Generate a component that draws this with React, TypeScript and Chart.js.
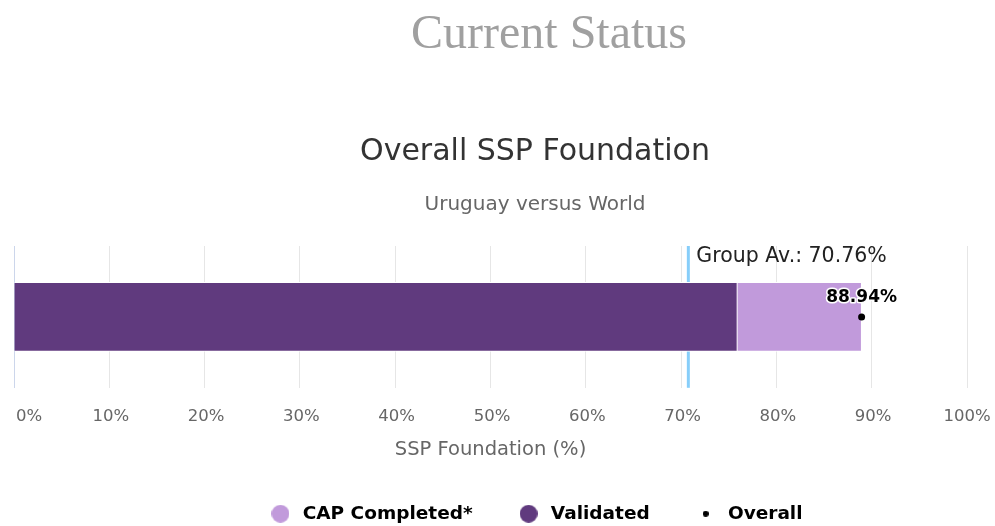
import React, { useEffect, useRef } from 'react';
import { Chart, registerables } from 'chart.js';

Chart.register(...registerables);

// ---- data ----
const categories = ['Uruguay'];
const validatedValues = [75.9];
const capCompletedValues = [13.04];
const overallValues = [88.94];
const groupAverage = 70.76;
const xMin = 0;
const xMax = 100;
const xStep = 10;

const pageTitle = 'Current Status';
const chartTitle = 'Overall SSP Foundation';
const chartSubtitle = 'Uruguay versus World';
const xAxisTitle = 'SSP Foundation (%)';
const groupLabelPrefix = 'Group Av.: ';

const COLOR_VALIDATED = '#603A7E';
const COLOR_CAP = '#C19ADB';
const COLOR_OVERALL = '#000000';
const COLOR_GROUP = '#87CEFA';
const FONT = "'DejaVu Sans', sans-serif";

function dotImage(color: string, size: number): HTMLCanvasElement {
  const c = document.createElement('canvas');
  c.width = size;
  c.height = size;
  const g = c.getContext('2d')!;
  g.fillStyle = color;
  g.beginPath();
  g.arc(size / 2, size / 2, size / 2, 0, Math.PI * 2);
  g.fill();
  return c;
}

// keep the first x tick label inside the chart, as the original does
const firstLabelPlugin = {
  id: 'firstLabel',
  beforeDraw(chart: any) {
    const sx = chart.scales.x;
    const items = sx.getLabelItems();
    if (items && items[0]) {
      items[0].options.textAlign = 'left';
      items[0].options.translation = [chart.chartArea.left + 2, items[0].options.translation[1]];
    }
    for (let i = 1; i < items.length - 1; i++) {
      items[i].options.translation = [items[i].options.translation[0] + 1.5, items[i].options.translation[1]];
    }
  },
};

const groupAvgPlugin = {
  id: 'groupAvg',
  beforeDatasetsDraw(chart: any) {
    const { ctx, chartArea, scales } = chart;
    const x = scales.x.getPixelForValue(groupAverage);
    ctx.save();
    ctx.strokeStyle = COLOR_GROUP;
    ctx.lineWidth = 3;
    ctx.beginPath();
    ctx.moveTo(x, chartArea.top);
    ctx.lineTo(x, chartArea.bottom);
    ctx.stroke();
    ctx.restore();
  },
  afterDatasetsDraw(chart: any) {
    const { ctx, chartArea, scales } = chart;
    const x = scales.x.getPixelForValue(groupAverage);
    ctx.save();
    ctx.font = `20.5px ${FONT}`;
    ctx.fillStyle = '#222';
    ctx.textAlign = 'left';
    ctx.textBaseline = 'middle';
    ctx.fillText(groupLabelPrefix + groupAverage.toFixed(2) + '%', x + 8, chartArea.top + 11);

    const meta = chart.getDatasetMeta(2);
    const pt = meta.data[0];
    if (pt) {
      const txt = overallValues[0].toFixed(2) + '%';
      ctx.font = `bold 17px ${FONT}`;
      ctx.textAlign = 'center';
      ctx.textBaseline = 'middle';
      ctx.lineJoin = 'round';
      ctx.strokeStyle = '#ffffff';
      ctx.lineWidth = 3;
      ctx.strokeText(txt, pt.x, pt.y - 19);
      ctx.fillStyle = '#000';
      ctx.fillText(txt, pt.x, pt.y - 19);
    }
    ctx.restore();
  },
};

export default function App() {
  const ref = useRef<HTMLCanvasElement | null>(null);

  useEffect(() => {
    if (!ref.current) return;
    const legendImgs = [dotImage(COLOR_CAP, 18), dotImage(COLOR_VALIDATED, 18), dotImage(COLOR_OVERALL, 6)];
    const chart = new Chart(ref.current, {
      type: 'bar',
      data: {
        labels: categories,
        datasets: [
          {
            type: 'bar',
            label: 'Validated',
            data: validatedValues,
            backgroundColor: COLOR_VALIDATED,
            borderColor: '#ffffff',
            borderWidth: 1,
            barThickness: 69,
            order: 2,
          },
          {
            type: 'bar',
            label: 'CAP Completed*',
            data: capCompletedValues,
            backgroundColor: COLOR_CAP,
            borderColor: '#ffffff',
            borderWidth: 1,
            barThickness: 69,
            order: 2,
          },
          {
            type: 'line',
            label: 'Overall',
            data: overallValues,
            stack: 'overall',
            showLine: false,
            pointRadius: 3.5,
            pointBackgroundColor: COLOR_OVERALL,
            pointBorderWidth: 0,
            order: 1,
          } as any,
        ],
      },
      options: {
        indexAxis: 'y',
        responsive: false,
        animation: false,
        devicePixelRatio: 1,
        layout: { padding: { left: 0, right: 0, top: 0, bottom: 0 } },
        scales: {
          x: {
            type: 'linear',
            stacked: true,
            min: xMin,
            max: xMax,
            ticks: {
              stepSize: xStep,
              padding: 0,
              color: '#666',
              font: { family: FONT, size: 16.5 },
              callback: (v: any) => v + '%',
            },
            grid: {
              drawTicks: true,
              tickLength: 19,
              tickColor: 'transparent',
              color: (c: any) => (c.tick && c.tick.value === 0 ? '#ccd6eb' : '#e6e6e6'),
              lineWidth: 1,
            },
            border: { display: false },
            title: {
              display: true,
              text: xAxisTitle,
              color: '#666',
              font: { family: FONT, size: 19.5 },
              padding: { top: 11.5, bottom: 0 },
            },
          },
          y: {
            type: 'category',
            stacked: true,
            position: 'left',
            ticks: { display: false },
            grid: { display: false, drawTicks: false },
            border: { display: false },
            afterFit: (s: any) => { s.width = 14; },
          },
          yRight: {
            type: 'category',
            position: 'right',
            ticks: { display: false },
            grid: { display: false, drawTicks: false },
            border: { display: false },
            afterFit: (s: any) => { s.width = 103; },
          },
        },
        plugins: {
          title: {
            display: true,
            text: chartTitle,
            color: '#333',
            font: { family: FONT, size: 30, weight: 'normal' },
            padding: { top: 134, bottom: 0 },
          },
          subtitle: {
            display: true,
            text: chartSubtitle,
            color: '#666',
            font: { family: FONT, size: 20 },
            padding: { top: 23, bottom: 29 },
          },
          legend: {
            position: 'bottom',
            labels: {
              usePointStyle: true,
              pointStyleWidth: 26,
              padding: 43,
              color: '#333',
              font: { family: FONT, size: 18.5, weight: 'bold' },
              generateLabels: () => [
                { text: 'CAP Completed*', pointStyle: legendImgs[0], fillStyle: COLOR_CAP, strokeStyle: 'transparent', lineWidth: 0, hidden: false, datasetIndex: 1 },
                { text: 'Validated', pointStyle: legendImgs[1], fillStyle: COLOR_VALIDATED, strokeStyle: 'transparent', lineWidth: 0, hidden: false, datasetIndex: 0 },
                { text: 'Overall', pointStyle: legendImgs[2], fillStyle: COLOR_OVERALL, strokeStyle: 'transparent', lineWidth: 0, hidden: false, datasetIndex: 2 },
              ] as any,
            },
          },
          tooltip: { enabled: false },
        },
      },
      plugins: [groupAvgPlugin, firstLabelPlugin],
    } as any);
    return () => chart.destroy();
  }, []);

  return (
    <div style={{ position: 'absolute', left: 0, top: 0, width: 995, height: 526, overflow: 'hidden', background: '#fff' }}>
      <div
        style={{
          position: 'absolute',
          left: 0,
          top: 8,
          width: 1098,
          textAlign: 'center',
          fontFamily: "'Liberation Serif', serif",
          fontSize: 48,
          lineHeight: '48px',
          color: '#a0a0a0',
          zIndex: 1,
        }}
      >
        {pageTitle}
      </div>
      <canvas
        ref={ref}
        width={1070}
        height={533}
        style={{ position: 'absolute', left: 0, top: 0, width: 1070, height: 533, display: 'block' }}
      />
    </div>
  );
}
